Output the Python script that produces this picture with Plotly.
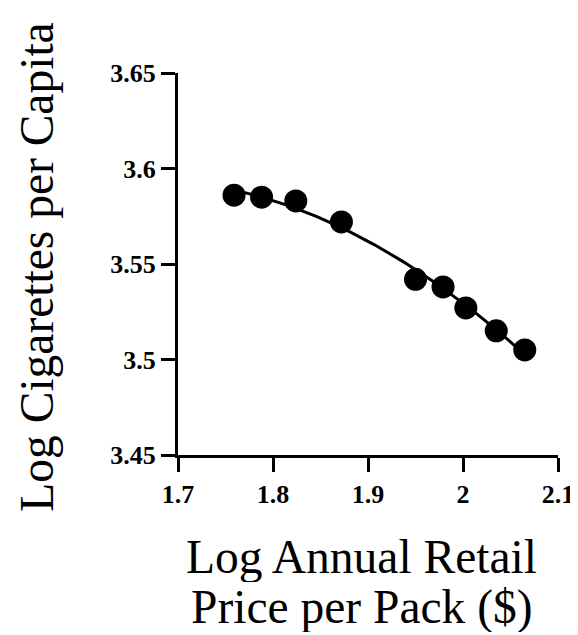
import numpy as np
import plotly.graph_objects as go

# Data
log_price = [1.759, 1.788, 1.824, 1.872, 1.950, 1.979, 2.003, 2.035, 2.065]
log_cigs = [3.586, 3.585, 3.583, 3.572, 3.542, 3.538, 3.527, 3.515, 3.505]

x_ticks = [1.7, 1.8, 1.9, 2.0, 2.1]
x_tick_labels = ["1.7", "1.8", "1.9", "2", "2.1"]
y_ticks = [3.45, 3.5, 3.55, 3.6, 3.65]
y_tick_labels = ["3.45", "3.5", "3.55", "3.6", "3.65"]

# Quadratic fit curve through the data
coef = np.polyfit(log_price, log_cigs, 2)
fit_x = np.linspace(min(log_price), max(log_price), 100)
fit_y = np.polyval(coef, fit_x)

FONT = "Liberation Serif, Times New Roman, serif"

fig = go.Figure()
fig.add_trace(go.Scatter(x=fit_x, y=fit_y, mode="lines",
                         line=dict(color="black", width=3),
                         hoverinfo="skip", showlegend=False))
fig.add_trace(go.Scatter(x=log_price, y=log_cigs, mode="markers",
                         marker=dict(color="black", size=23),
                         showlegend=False))

axis_common = dict(showgrid=False, zeroline=False, showline=True,
                   linecolor="black", linewidth=3, ticks="outside",
                   ticklen=14, tickwidth=3, tickcolor="black",
                   tickfont=dict(family=FONT, size=26, color="black",
                                 weight="bold"))

fig.update_xaxes(range=[1.7, 2.1], tickvals=x_ticks, ticktext=x_tick_labels,
                 **axis_common)
fig.update_yaxes(range=[3.45, 3.65], tickvals=y_ticks, ticktext=y_tick_labels,
                 **axis_common)

fig.add_annotation(text="Log Cigarettes per Capita", xref="paper", yref="paper",
                   x=-0.372, y=0.492, textangle=-90, showarrow=False,
                   xanchor="center", yanchor="middle",
                   font=dict(family=FONT, size=47.5, color="black"))
fig.add_annotation(text="Log Annual Retail", xref="paper", yref="paper",
                   x=0.483, y=-0.267, showarrow=False,
                   xanchor="center", yanchor="middle", height=50,
                   font=dict(family=FONT, size=47.5, color="black"))
fig.add_annotation(text="Price per Pack ($)", xref="paper", yref="paper",
                   x=0.483, y=-0.398, showarrow=False,
                   xanchor="center", yanchor="middle", height=50,
                   font=dict(family=FONT, size=47.5, color="black"))

fig.update_layout(width=578, height=635,
                  margin=dict(l=170, r=21, t=65, b=188),
                  plot_bgcolor="white", paper_bgcolor="white")

fig.write_html("out.html")
